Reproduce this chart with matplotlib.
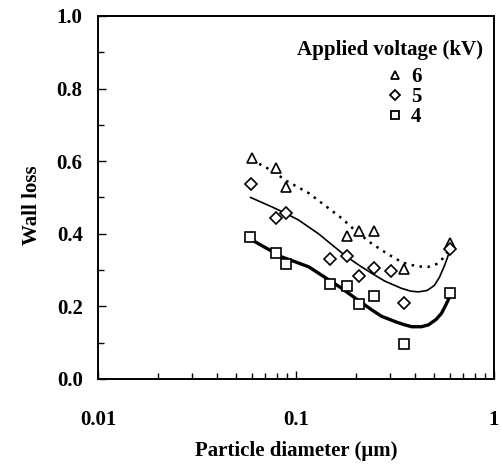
import numpy as np
import matplotlib
matplotlib.use("Agg")
import matplotlib.pyplot as plt
from matplotlib.ticker import LogLocator, MultipleLocator, FixedLocator, FixedFormatter
from matplotlib.lines import Line2D

plt.rcParams['font.family'] = ['Liberation Serif', 'DejaVu Serif']
plt.rcParams['font.weight'] = 'bold'

# measured points
d6 = [0.060, 0.079, 0.0887, 0.180, 0.208, 0.248, 0.351, 0.598]
w6 = [0.61, 0.58, 0.528, 0.394, 0.408, 0.408, 0.302, 0.375]
d5 = [0.059, 0.0796, 0.0893, 0.149, 0.180, 0.208, 0.248, 0.301, 0.351, 0.598]
w5 = [0.537, 0.443, 0.456, 0.33, 0.339, 0.284, 0.307, 0.298, 0.21, 0.359]
d4 = [0.0588, 0.079, 0.0887, 0.149, 0.180, 0.208, 0.248, 0.351, 0.598]
w4 = [0.39, 0.348, 0.317, 0.261, 0.257, 0.207, 0.229, 0.096, 0.238]

# fitted curves
c6x = [0.060, 0.075, 0.090, 0.116, 0.14, 0.17, 0.20, 0.24, 0.28, 0.317, 0.35, 0.384, 0.42, 0.466, 0.51, 0.543, 0.57, 0.60]
c6y = [0.603, 0.575, 0.545, 0.512, 0.478, 0.443, 0.408, 0.374, 0.350, 0.332, 0.320, 0.314, 0.310, 0.309, 0.316, 0.328, 0.342, 0.362]
c5x = [0.059, 0.075, 0.089, 0.103, 0.13, 0.178, 0.21, 0.24, 0.28, 0.34, 0.38, 0.415, 0.46, 0.50, 0.53, 0.56, 0.58, 0.60]
c5y = [0.50, 0.475, 0.456, 0.438, 0.40, 0.339, 0.312, 0.292, 0.270, 0.250, 0.242, 0.240, 0.244, 0.258, 0.280, 0.310, 0.332, 0.357]
c4x = [0.059, 0.070, 0.085, 0.100, 0.116, 0.14, 0.17, 0.20, 0.242, 0.27, 0.317, 0.35, 0.384, 0.43, 0.466, 0.51, 0.543, 0.57, 0.60]
c4y = [0.385, 0.362, 0.336, 0.322, 0.309, 0.28, 0.25, 0.222, 0.190, 0.173, 0.158, 0.150, 0.144, 0.144, 0.149, 0.164, 0.181, 0.203, 0.229]

legend_title = 'Applied voltage (kV)'
legend_labels = ['6', '5', '4']

fig = plt.figure(figsize=(5.02, 4.66), dpi=100)
ax = fig.add_axes([98/502, 1-379/466, (494-98)/502, (379-16)/466])

ax.plot(c6x, c6y, color='k', lw=1.8, ls=(0, (1, 2.2)))
ax.plot(c5x, c5y, color='k', lw=1.2)
ax.plot(c4x, c4y, color='k', lw=2.4)

ax.plot(d6, w6, ls='none', marker='^', ms=7.5, mfc='white', mec='k', mew=1.2)
ax.plot(d5, w5, ls='none', marker='D', ms=5.8, mfc='white', mec='k', mew=1.2)
ax.plot(d4, w4, ls='none', marker='s', ms=7.3, mfc='white', mec='k', mew=1.2)

ax.set_xscale('log')
ax.set_xlim(0.01, 1)
ax.set_ylim(0, 1.0)
ax.xaxis.set_major_locator(FixedLocator([0.01, 0.1, 1]))
ax.xaxis.set_major_formatter(FixedFormatter(['0.01', '0.1', '1']))
ax.xaxis.set_minor_locator(LogLocator(base=10, subs=np.arange(2, 10)))
ax.xaxis.set_minor_formatter(plt.NullFormatter())
ax.yaxis.set_major_locator(MultipleLocator(0.2))
ax.yaxis.set_minor_locator(MultipleLocator(0.1))
ax.yaxis.set_major_formatter(plt.FuncFormatter(lambda v, p: f"{v:.1f}"))
ax.tick_params(which='both', direction='in', width=1.0, labelsize=15)
ax.tick_params(which='major', length=6)
ax.tick_params(which='minor', length=4)
ax.tick_params(axis='x', pad=22)
ax.tick_params(axis='y', pad=11)
for s in ax.spines.values():
    s.set_linewidth(1.4)

ax.set_xlabel('Particle diameter (μm)', fontsize=15, fontweight='bold', labelpad=8)
ax.set_ylabel('Wall loss', fontsize=15, fontweight='bold')
ax.yaxis.set_label_coords(-0.142, 0.48)

ax.text(0.737, 0.906, legend_title, transform=ax.transAxes, ha='center', va='center',
        fontsize=15, fontweight='bold')

handles = [Line2D([], [], ls='none', marker='^', ms=6, mfc='white', mec='k', mew=1.3),
           Line2D([], [], ls='none', marker='D', ms=4.6, mfc='white', mec='k', mew=1.3),
           Line2D([], [], ls='none', marker='s', ms=5.8, mfc='white', mec='k', mew=1.3)]
leg = ax.legend(handles, legend_labels, loc='upper left',
                bbox_to_anchor=(0.735, 0.86), frameon=False, fontsize=15,
                handlelength=0.6, handletextpad=0.45, labelspacing=0.0, borderpad=0.0,
                borderaxespad=0.0)

fig.savefig('out.png', dpi=100)
